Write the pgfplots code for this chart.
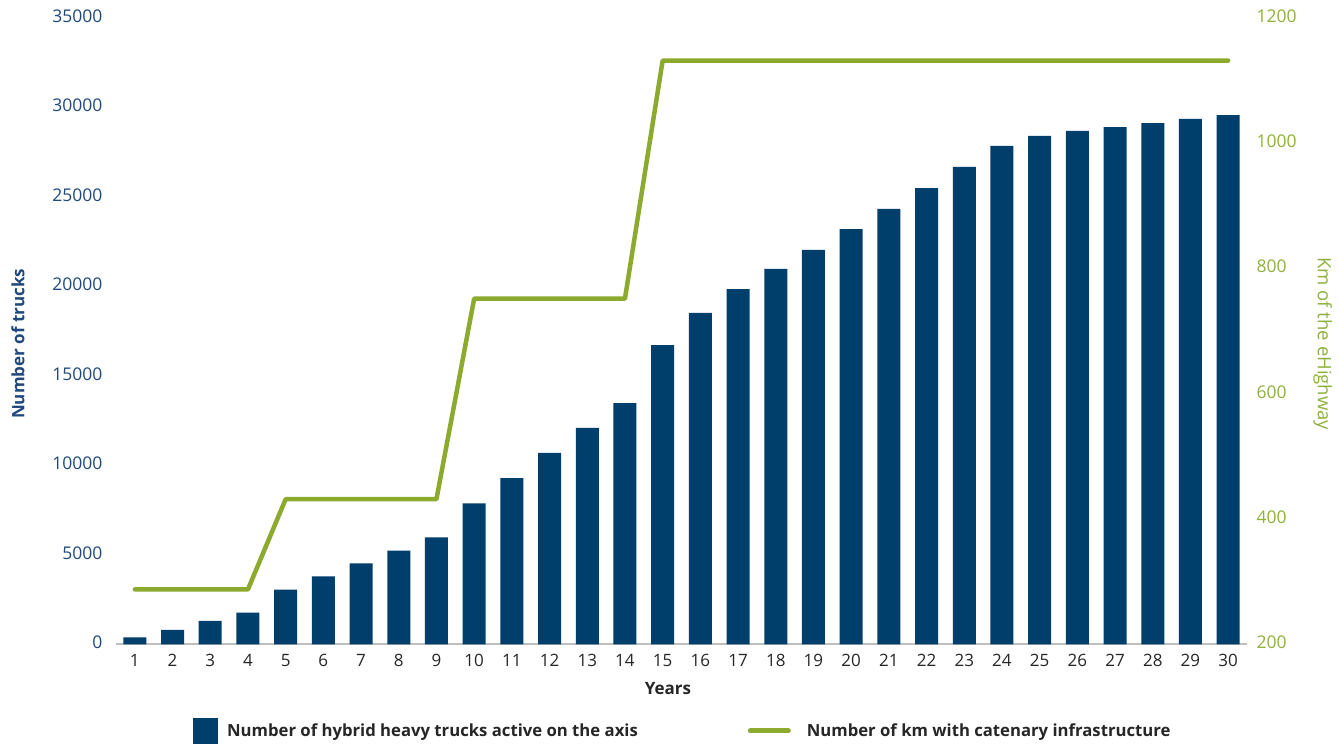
\documentclass[border=0pt]{standalone}
\usepackage{pgfplots}
\pgfplotsset{compat=1.18}
\usepackage{fontspec}
\setmainfont{Open Sans}
\definecolor{barblue}{RGB}{0,62,107}
\definecolor{tickblue}{RGB}{31,73,125}
\definecolor{linegreen}{RGB}{139,170,46}
\definecolor{tickgreen}{RGB}{141,177,58}
\definecolor{basegray}{RGB}{191,191,191}
\definecolor{txtgray}{RGB}{38,38,38}
\pgfplotstableread{
x trucks
1 400
2 820
3 1320
4 1780
5 3060
6 3800
7 4530
8 5250
9 5980
10 7880
11 9300
12 10700
13 12100
14 13490
15 16730
16 18520
17 19860
18 20980
19 22040
20 23210
21 24330
22 25500
23 26680
24 27850
25 28410
26 28690
27 28910
28 29130
29 29360
30 29580
}\trucks
\pgfplotstableread{
x km
1 288
2 288
3 288
4 288
5 432
6 432
7 432
8 432
9 432
10 752
11 752
12 752
13 752
14 752
15 1132
16 1132
17 1132
18 1132
19 1132
20 1132
21 1132
22 1132
23 1132
24 1132
25 1132
26 1132
27 1132
28 1132
29 1132
30 1132
}\kmdata
\begin{document}
\begin{tikzpicture}
\useasboundingbox (-116pt,-99.5pt) rectangle (1223pt,626.5pt+18pt);
\begin{axis}[
  at={(0,0)}, anchor=south west,
  scale only axis, width=1131pt, height=626.5pt,
  xmin=0.5, xmax=30.5, ymin=0, ymax=35000,
  xtick={1,...,30}, ytick={0,5000,...,35000},
  scaled y ticks=false,
  /pgf/number format/1000 sep={},
  /pgf/number format/assume math mode=true,
  axis x line*=bottom, axis y line*=left,
  x axis line style={draw=basegray, line width=2pt, -},
  y axis line style={draw=none},
  tick style={draw=none},
  xticklabel style={font=\fontsize{17}{19}\selectfont, text=txtgray, yshift=-6pt},
  yticklabel style={font=\fontsize{17.5}{19}\selectfont, text=tickblue, xshift=-10pt, yshift=2pt},
  xlabel={\textbf{Years}},
  xlabel style={font=\fontsize{17}{19}\selectfont, text=txtgray, at={(axis description cs:0.488,-0.070)}, anchor=center},
  ylabel={\textbf{Number of trucks}},
  ylabel style={font=\fontsize{17}{19}\selectfont, text=tickblue, at={(axis description cs:-0.0866,0.48)}, anchor=center},
]
\addplot[ybar, bar width=23pt, fill=barblue, draw=none] table[x=x, y=trucks] {\trucks};
\end{axis}
\begin{axis}[
  at={(0,0)}, anchor=south west,
  scale only axis, width=1131pt, height=626.5pt,
  xmin=0.5, xmax=30.5, ymin=200, ymax=1200,
  ytick={200,400,...,1200},
  /pgf/number format/1000 sep={},
  /pgf/number format/assume math mode=true,
  axis x line=none, axis y line*=right,
  y axis line style={draw=none},
  tick style={draw=none},
  yticklabel style={font=\fontsize{17.5}{19}\selectfont, text=tickgreen, xshift=6pt, yshift=2pt},
  ylabel={Km of the eHighway},
  ylabel style={font=\fontsize{18.5}{20}\selectfont, text=tickgreen, at={(axis description cs:1.067,0.48)}, anchor=center, rotate=180},
  legend columns=2,
  legend style={draw=none, at={(axis description cs:0.501,-0.138)}, anchor=center,
    font=\fontsize{16.7}{19}\selectfont\bfseries, text=txtgray,
    /tikz/every even column/.append style={column sep=108pt}},
]
\addlegendimage{legend image code/.code={\fill[barblue] (0pt,-13pt) rectangle (24pt,13pt);}}
\addlegendentry{\hspace{8pt}Number of hybrid heavy trucks active on the axis}
\addplot[linegreen, line width=4.5pt, line cap=round, line join=round, legend image code/.code={\draw[linegreen, line width=5pt, line cap=round] (0pt,0pt) -- (38pt,0pt);}] table[x=x, y=km] {\kmdata};
\addlegendentry{\hspace{14pt}Number of km with catenary infrastructure}
\end{axis}
\end{tikzpicture}
\end{document}
